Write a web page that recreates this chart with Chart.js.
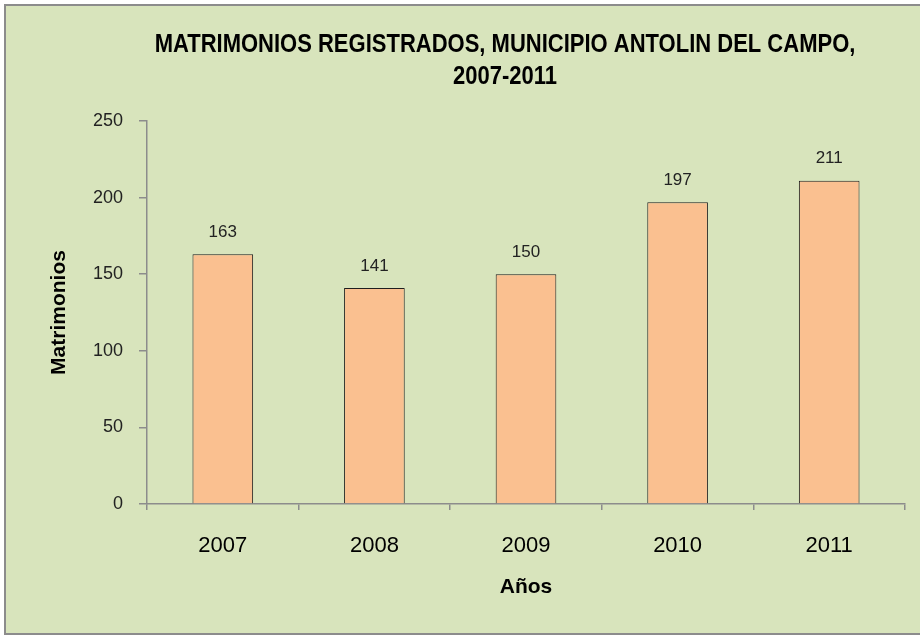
<!DOCTYPE html>
<html>
<head>
<meta charset="utf-8">
<script src="https://cdn.jsdelivr.net/npm/chart.js@4/dist/chart.umd.min.js"></script>
<style>
	body { margin: 0; background: #fff; }
	canvas { display: block; }
</style>
</head>
<body>
<canvas id="chart" width="920" height="638"></canvas>
<script>
const years = ["2007", "2008", "2009", "2010", "2011"];
const matrimonios = [163, 141, 150, 197, 211];
const titleLines = ["MATRIMONIOS REGISTRADOS, MUNICIPIO ANTOLIN DEL CAMPO,", "2007-2011"];
const yTitle = "Matrimonios";
const xTitle = "Años";

const sans = "'Liberation Sans', Arial, sans-serif";

// green panel with grey frame, like the spreadsheet chart area
const framePlugin = {
	id: 'frame',
	beforeDraw(chart) {
		const ctx = chart.ctx;
		ctx.save();
		ctx.fillStyle = '#ffffff';
		ctx.fillRect(0, 0, chart.width, chart.height);
		ctx.fillStyle = '#d8e4bc';
		ctx.fillRect(5, 5, chart.width - 5, chart.height - 9);
		ctx.strokeStyle = '#8c8c8c';
		ctx.lineWidth = 2;
		ctx.strokeRect(5, 5, chart.width + 5, chart.height - 9);
		ctx.restore();
	}
};

// two-line title in a squeezed bold face (no Arial Narrow here)
const titlePlugin = {
	id: 'bigTitle',
	afterDraw(chart) {
		const ctx = chart.ctx;
		ctx.save();
		ctx.fillStyle = '#000';
		ctx.font = "bold 25px " + sans;
		ctx.textAlign = 'center';
		ctx.textBaseline = 'middle';
		ctx.translate(505, 0);
		ctx.scale(0.88, 1);
		titleLines.forEach((line, i) => ctx.fillText(line, 0, 45 + i * 32));
		ctx.restore();
	}
};

// value labels over each bar
const valuePlugin = {
	id: 'values',
	afterDatasetsDraw(chart) {
		const ctx = chart.ctx;
		const meta = chart.getDatasetMeta(0);
		ctx.save();
		ctx.fillStyle = '#222';
		ctx.font = "17px " + sans;
		ctx.textAlign = 'center';
		ctx.textBaseline = 'middle';
		meta.data.forEach((bar, i) => {
			ctx.fillText(String(matrimonios[i]), bar.x, bar.y - 22);
		});
		ctx.restore();
	}
};

new Chart(document.getElementById('chart'), {
	type: 'bar',
	data: {
		labels: years,
		datasets: [{
			data: matrimonios,
			backgroundColor: '#fac090',
			borderColor: '#1e1e1e',
			borderWidth: 1,
			categoryPercentage: 1,
			barPercentage: 0.4
		}]
	},
	options: {
		responsive: false,
		animation: false,
		layout: { padding: { top: 121, right: 15, bottom: 0, left: 5 } },
		plugins: {
			legend: { display: false },
			tooltip: { enabled: false },
			title: { display: false }
		},
		scales: {
			x: {
				offset: true,
				afterFit(scale) { scale.height = 134; },
				grid: { offset: true, drawOnChartArea: false, tickLength: 6, color: '#8c8c8c', lineWidth: 1.5 },
				border: { color: '#8c8c8c', width: 1.5 },
				ticks: { color: '#000', padding: 23, font: { size: 22, family: sans } },
				title: { display: true, text: xTitle, color: '#000', padding: { top: 0, bottom: 38 }, font: { size: 21, weight: 'bold', family: sans } }
			},
			y: {
				min: 0,
				max: 250,
				afterFit(scale) { scale.width = 142; },
				grid: { drawOnChartArea: false, tickLength: 8, color: '#8c8c8c', lineWidth: 1.5 },
				border: { color: '#8c8c8c', width: 1.5 },
				ticks: { stepSize: 50, color: '#222', padding: 16, font: { size: 18, family: sans } },
				title: { display: true, text: yTitle, color: '#000', padding: { top: 42, bottom: 0 }, font: { size: 21, weight: 'bold', family: sans } }
			}
		}
	},
	plugins: [framePlugin, valuePlugin, titlePlugin]
});
</script>
</body>
</html>
